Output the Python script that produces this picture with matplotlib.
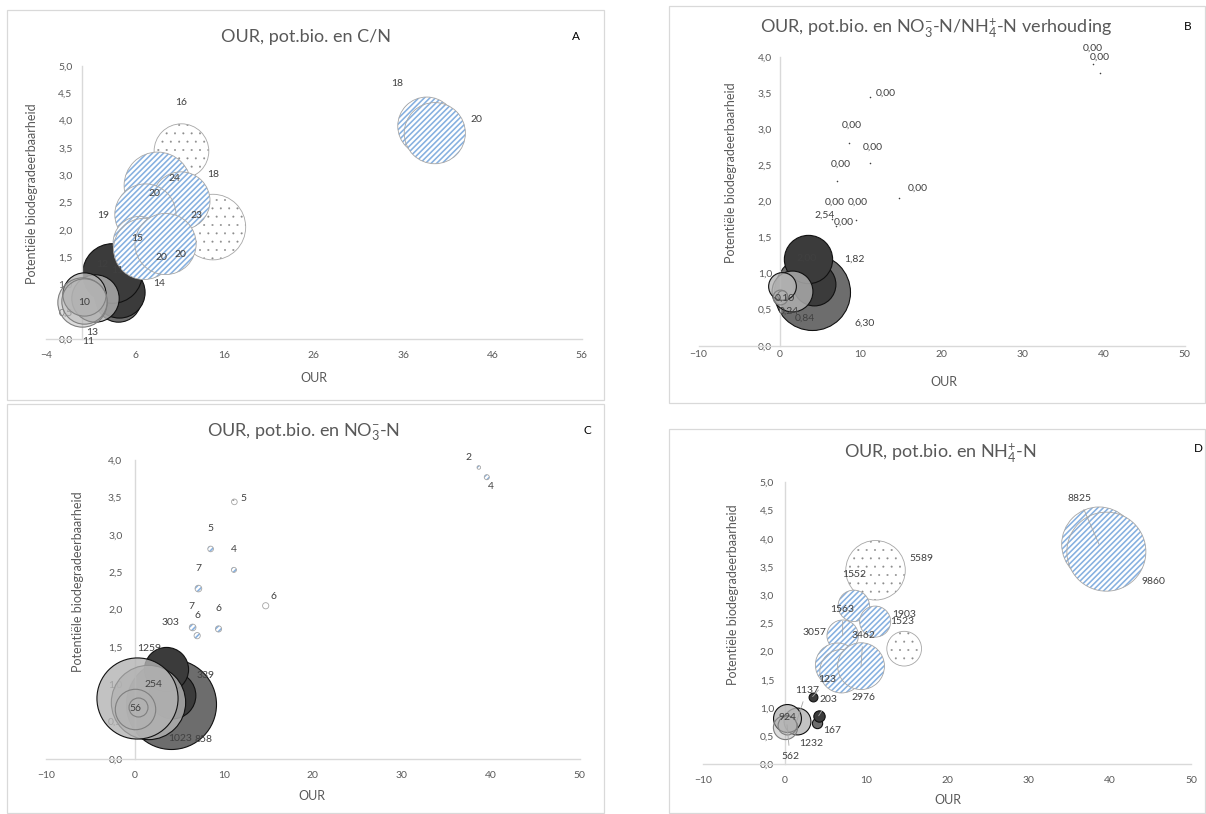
"""Four bubble charts: OUR vs potential biodegradability, sized by N parameters."""

import matplotlib

matplotlib.use("Agg")
import matplotlib.pyplot as plt
from matplotlib.colors import to_rgba
from matplotlib.patches import Rectangle
from matplotlib.ticker import FuncFormatter

FIG_W, FIG_H = 1206, 814

# samples, listed in drawing order
our = [4.02, 4.19, 3.45, 11.18, 14.70, 38.65, 39.55, 8.51, 11.13, 7.14,
       6.49, 7.00, 9.40, 1.49, 0.26, 0.05, 0.30]
pot_bio = [0.74, 0.86, 1.20, 3.44, 2.05, 3.90, 3.77, 2.81, 2.53, 2.28,
           1.76, 1.65, 1.74, 0.76, 0.82, 0.67, 0.70]
bubble_style = ["mid", "dark", "dark", "dots", "dots", "hatch", "hatch", "hatch",
                "hatch", "hatch", "hatch", "hatch", "hatch", "light", "light",
                "ring", "ring"]
cn_ratio = [11, 14, 19, 16, 23, 18, 20, 24, 18, 20, 15, 20, 20, 12, 10, 13, 11]
no3_nh4_ratio = [6.30, 2.00, 2.54, 0.00, 0.00, 0.00, 0.00, 0.00, 0.00, 0.00,
                 0.00, 0.00, 0.00, 1.82, 0.84, 0.24, 0.10]
no3_n = [1259, 339, 303, 5, 6, 2, 4, 5, 4, 7, 7, 6, 6, 858, 1023, 254, 56]
nh4_n = [167, 203, 123, 5589, 1903, 8825, 9860, 1552, 1523, 1563, 3057, 2976,
         3462, 1137, 1232, 924, 562]

plt.rcParams["font.family"] = ["Lato", "DejaVu Sans"]
plt.rcParams["mathtext.default"] = "regular"
plt.rcParams["hatch.linewidth"] = 1.0

TEXT = "#595959"
LABEL = "#404040"
AXIS = "#d9d9d9"
HATCH_BLUE = "#86b0e0"
SOLID = {
    "dark": ("#3b3b3b", 1.0, "#111111"),
    "mid": ("#6d6d6d", 1.0, "#111111"),
    "light": ("#b3b3b3", 0.8, "#111111"),
    "ring": ("#b3b3b3", 0.45, "#7f7f7f"),
}

PANELS = [
    dict(
        values=cn_ratio, decimals=0, max_px=67,
        rect=(45.9, 66, 581.7, 339), box=(7, 10, 604, 400),
        xlim=(-4, 56), xticks=range(-4, 57, 10), ylim=(0, 5),
        xpad=9, ypad=6.5,
        title="OUR, pot.bio. en C/N", title_xy=(306, 37),
        letter="A", letter_xy=(576, 37),
        xlabel_xy=(314, 378), ylabel_xy=(32.5, 194),
        offsets=[(0, 28), (40, 8.5), (-9, 58), (0, 49), (-16, 11.5), (-30, 43),
                 (42, 13.6), (16.5, 7.4), (32, 26), (9, 21), (-2, 4), (17, -8.5),
                 (15, -10.7), (7, 33), (0, -8), (10, -30), (4, -41)],
        leaders=[],
    ),
    dict(
        values=no3_nh4_ratio, decimals=2, max_px=76,
        rect=(698.6, 56.7, 1184.5, 345.7), box=(669, 6, 1205, 403),
        xlim=(-10, 50), xticks=range(-10, 51, 10), ylim=(0, 4),
        xpad=3, ypad=5.5,
        title="OUR, pot.bio. en NO$_3^{-}$-N/NH$_4^{+}$-N verhouding",
        title_xy=(936, 28),
        letter="B", letter_xy=(1188, 26),
        xlabel_xy=(944, 382), ylabel_xy=(731, 173),
        offsets=[(52, -31), (-7, 25), (17, 44), (16, 4), (19, 9), (0, 16),
                 (0, 16.6), (3.5, 17), (3, 16), (3, 17), (2.4, 16), (7, 4),
                 (2.5, 18), (63, 32), (23, -32), (9, -14), (3, -3)],
        leaders=[],
    ),
    dict(
        values=no3_n, decimals=0, max_px=90,
        rect=(45.9, 460, 579.8, 759), box=(7, 404, 604, 813),
        xlim=(-10, 50), xticks=range(-10, 51, 10), ylim=(0, 4),
        xpad=9, ypad=9,
        title="OUR, pot.bio. en NO$_3^{-}$-N", title_xy=(304, 432),
        letter="C", letter_xy=(587, 430),
        xlabel_xy=(312, 796), ylabel_xy=(78.5, 582),
        offsets=[(-21, 55), (33, 19), (5, 47), (9, 3), (8, 9), (-10, 10),
                 (4, -9), (0, 20), (0, 20), (0, 20), (-1, 21), (0, 20),
                 (0, 20), (55, -37), (43, -41), (18, 24), (-2, -2)],
        leaders=[],
    ),
    dict(
        values=nh4_n, decimals=0, max_px=79,
        rect=(703.2, 482.3, 1191.4, 764.3), box=(669, 429, 1205, 813),
        xlim=(-10, 50), xticks=range(-10, 51, 10), ylim=(0, 5),
        xpad=8.5, ypad=7.5,
        title="OUR, pot.bio. en NH$_4^{+}$-N", title_xy=(940, 453),
        letter="D", letter_xy=(1198, 448),
        xlabel_xy=(948, 800), ylabel_xy=(733, 595),
        offsets=[(15, -8), (10, 16), (15, 17), (46, 12), (0, 34), (-20, 46),
                 (47, -30), (0, 31), (27, 0), (0, 26), (-23, 33), (22, -26),
                 (2, 31), (10, 31), (24, -25), (2, 9), (3, -32)],
        leaders=[1, 2, 5, 9, 12, 13, 16],
    ),
]


def fig_xy(px, py):
    """Convert pixel coordinates (origin top-left) to figure fractions."""
    return px / FIG_W, 1 - py / FIG_H


def comma(value, decimals):
    return f"{value:.{decimals}f}".replace(".", ",")


def draw_bubble(ax, x, y, diameter_px, style, z):
    """Draw one Excel-like bubble with the given diameter in pixels."""
    if diameter_px < 2.5:
        ax.scatter(x, y, s=1.3, color="#404040", linewidths=0, zorder=z)
        return
    area = (diameter_px * 0.72) ** 2
    if style in ("hatch", "dots"):
        if style == "hatch":
            pattern, colour, hatch_lw = "//////", HATCH_BLUE, 1.15
        else:
            pattern, colour, hatch_lw = "..", "#8c8c8c", 0.2
        with plt.rc_context({"hatch.linewidth": hatch_lw}):
            fill = ax.scatter(x, y, s=area, facecolor="white", edgecolor=colour,
                              hatch=pattern, linewidths=0, zorder=z)
        if hasattr(fill, "set_hatch_linewidth"):
            fill.set_hatch_linewidth(hatch_lw)
        ax.scatter(x, y, s=area, facecolor="none", edgecolor="#a6a6a6",
                   linewidths=0.6, zorder=z + 0.01)
        return
    face, alpha, edge = SOLID[style]
    ax.scatter(x, y, s=area, facecolor=to_rgba(face, alpha), edgecolor=edge,
               linewidths=0.8, zorder=z)


fig = plt.figure(figsize=(FIG_W / 100, FIG_H / 100), dpi=100)
fig.patch.set_facecolor("white")

for panel in PANELS:
    bx0, by0, bx1, by1 = panel["box"]
    fig.add_artist(Rectangle(fig_xy(bx0, by1), (bx1 - bx0) / FIG_W,
                             (by1 - by0) / FIG_H, transform=fig.transFigure,
                             fill=False, edgecolor=AXIS, linewidth=0.9))

    left, top, right, bottom = panel["rect"]
    ax = fig.add_axes([left / FIG_W, 1 - bottom / FIG_H,
                       (right - left) / FIG_W, (bottom - top) / FIG_H])
    ax.set_facecolor("none")
    ax.set_xlim(panel["xlim"])
    ax.set_ylim(panel["ylim"])
    ax.set_xticks(list(panel["xticks"]))
    ymax = panel["ylim"][1]
    ax.set_yticks([i * 0.5 for i in range(int(ymax * 2) + 1)])
    ax.yaxis.set_major_formatter(FuncFormatter(lambda v, _: comma(v, 1)))
    ax.spines["left"].set_position(("data", 0))
    ax.spines["bottom"].set_position(("data", 0))
    for side in ("top", "right"):
        ax.spines[side].set_visible(False)
    for side in ("left", "bottom"):
        ax.spines[side].set_color(AXIS)
        ax.spines[side].set_linewidth(1.0)
    ax.tick_params(length=0, labelsize=7.5, colors=TEXT)
    ax.tick_params(axis="x", pad=panel["xpad"])
    ax.tick_params(axis="y", pad=panel["ypad"])

    values = panel["values"]
    vmax = max(values)
    for i, (x, y, value, style) in enumerate(zip(our, pot_bio, values, bubble_style)):
        diameter = panel["max_px"] * (value / vmax) ** 0.5
        draw_bubble(ax, x, y, diameter, style, 2 + i * 0.1)

        dx, dy = panel["offsets"][i]
        arrow = None
        if i in panel["leaders"]:
            arrow = dict(arrowstyle="-", color="#a6a6a6", lw=0.6,
                         shrinkA=3, shrinkB=0)
        ax.annotate(comma(value, panel["decimals"]), (x, y),
                    xytext=(dx * 0.72, dy * 0.72), textcoords="offset points",
                    ha="center", va="center", fontsize=7.5, color=LABEL,
                    zorder=100, arrowprops=arrow, annotation_clip=False)

    fig.text(*fig_xy(*panel["title_xy"]), panel["title"], ha="center",
             va="center", fontsize=13, color=TEXT)
    fig.text(*fig_xy(*panel["letter_xy"]), panel["letter"], ha="center",
             va="center", fontsize=8.5, color="black")
    fig.text(*fig_xy(*panel["xlabel_xy"]), "OUR", ha="center", va="center",
             fontsize=9, color=TEXT)
    fig.text(*fig_xy(*panel["ylabel_xy"]), "Potentiële biodegradeerbaarheid",
             ha="center", va="center", rotation=90, fontsize=9, color=TEXT)

fig.savefig("out.png", dpi=100, facecolor="white")
